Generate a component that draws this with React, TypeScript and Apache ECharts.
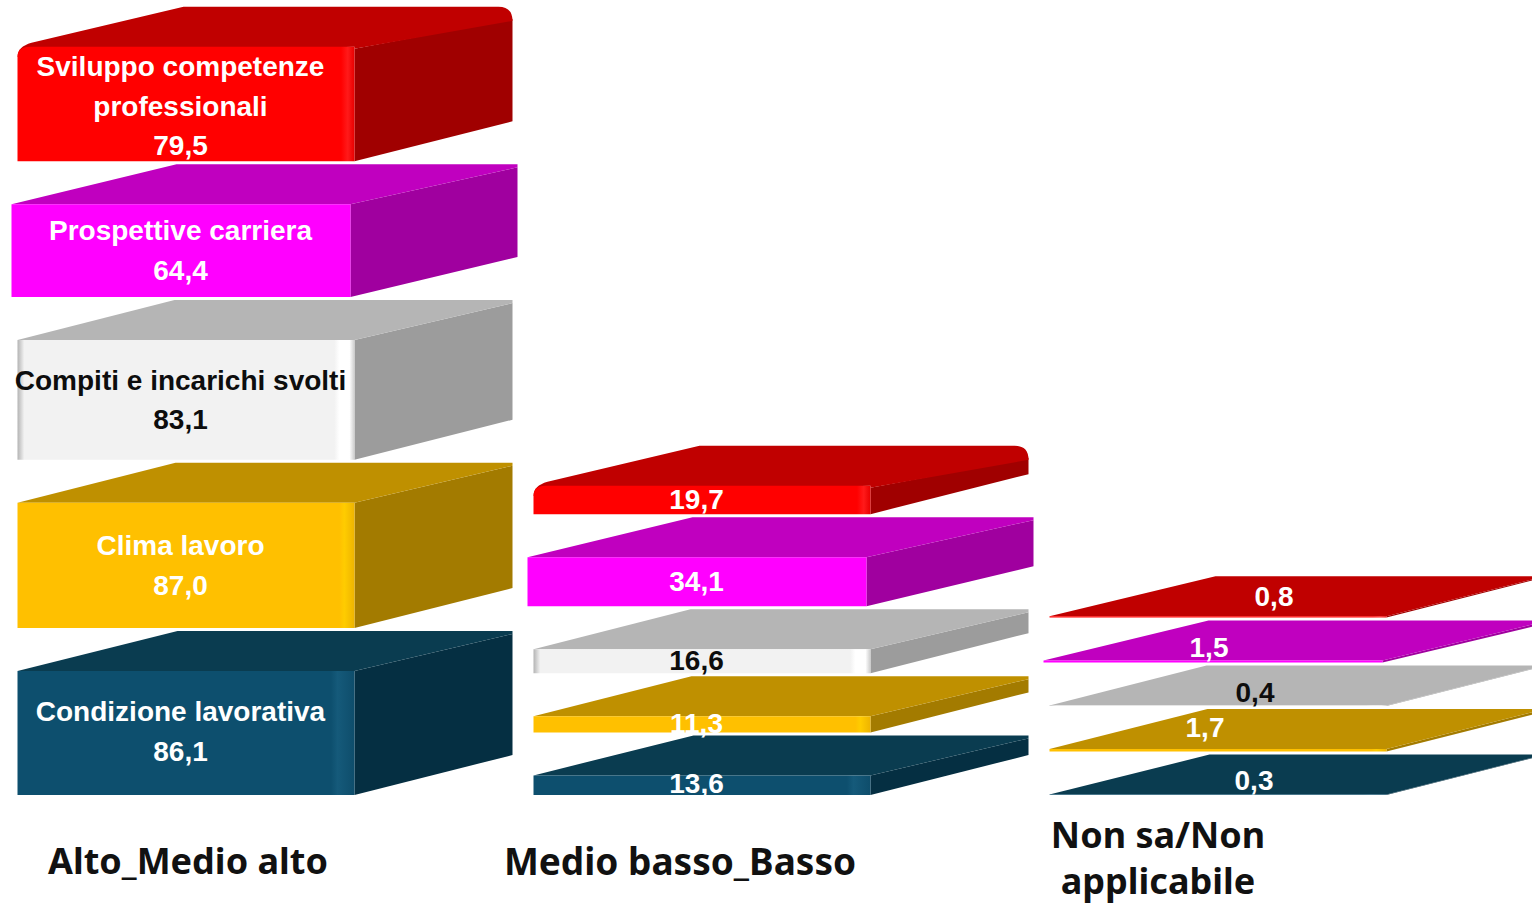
import React, { useEffect, useRef } from "react";
import * as echarts from "echarts";

// Response classes along the horizontal axis
const categories = ["Alto_Medio alto", "Medio basso_Basso", "Non sa/Non applicabile"];

// Satisfaction dimensions, bottom layer first
const seriesNames = [
  "Condizione lavorativa",
  "Clima lavoro",
  "Compiti e incarichi svolti",
  "Prospettive carriera",
  "Sviluppo competenze\nprofessionali",
];

const condizioneLavorativa = [86.1, 13.6, 0.3];
const climaLavoro = [87.0, 11.3, 1.7];
const compitiIncarichi = [83.1, 16.6, 0.4];
const prospettiveCarriera = [64.4, 34.1, 1.5];
const sviluppoCompetenze = [79.5, 19.7, 0.8];

const seriesValues = [
  condizioneLavorativa,
  climaLavoro,
  compitiIncarichi,
  prospettiveCarriera,
  sviluppoCompetenze,
];

// Block appearance, one entry per layer
const faceColors = [
  { top: "#0A3C50", side: "#052F42", text: "#FFFFFF" },
  { top: "#BF9000", side: "#A37B00", text: "#FFFFFF" },
  { top: "#B5B5B5", side: "#9C9C9C", text: "#0D0D0D" },
  { top: "#C000BF", side: "#A0009F", text: "#FFFFFF" },
  { top: "#C00000", side: "#A00000", text: "#FFFFFF" },
];
const frontStops: [number, string][][] = [
  [[0, "#0D4F6E"], [0.93, "#0D4F6E"], [0.95, "#155A7A"], [1, "#0E4D6B"]],
  [[0, "#FFC000"], [0.955, "#FFC000"], [0.97, "#FFCC00"], [1, "#EEB400"]],
  [[0, "#B4B4B4"], [0.02, "#F2F2F2"], [0.94, "#F2F2F2"], [0.955, "#FFFFFF"], [0.985, "#FFFFFF"], [1, "#CCCCCC"]],
  [[0, "#FF00FF"], [1, "#FF00FF"]],
  [[0, "#FF0000"], [0.96, "#FF0000"], [0.98, "#FF1A1A"], [1, "#E80000"]],
];
const leftShift = [0, 0, 0, -6, 0];
const rightShift = [0, 0, 0, -4, 0];
const backRight = [158, 158, 158, 167, 158];
const backLeft = [160, 158, 157, 165, 166];

const DEPTH = 40;
const LAYER_GAP = 43;
const PX_PER_UNIT = 1.44;
const BAR_RATIO = 337 / 516;

// Value label placement in the last column, relative to the column centre and block base
const lastColumnNudge: [number, number][] = [
  [36, -15],
  [-13, -24],
  [37, -14],
  [-9, -15],
  [56, -21],
];
// Vertical fine-tuning of the labels in the first two columns
const firstColumnLift = [-1.5, 0, 0, 0, 2];
const secondColumnLift = [-1.5, -1, -1, 0, 0];

const formatValue = (v: number) => v.toFixed(1).replace(".", ",");

function buildSeries() {
  return seriesNames.map((name, si) => {
    const data = seriesValues[si].map((v, c) => {
      let below = 0;
      for (let k = 0; k < si; k++) below += seriesValues[k][c];
      return [c, v, below];
    });
    return {
      type: "custom" as const,
      name,
      clip: false,
      encode: { x: 0, y: 1 },
      data,
      renderItem: (_: unknown, api: any) => {
        const cat = api.value(0);
        const value = api.value(1);
        const below = api.value(2);
        const centre = api.coord([cat, 0])[0];
        const base = api.coord([cat, 0])[1];
        const band = api.size([1, 0])[0];
        const half = (band * BAR_RATIO) / 2;
        const x0 = centre - half + leftShift[si];
        const x1 = centre + half + rightShift[si];
        const yB = base - api.size([0, below])[1] - si * LAYER_GAP;
        const h = api.size([0, value])[1];
        const yT = yB - h;
        const c = faceColors[si];
        const xr = x1 + backRight[si];
        const xl = x0 + backLeft[si];
        const yb = yT - DEPTH;
        const rounded = si === 4 && h > 5;
        const wedge = rounded ? 12 : h > 5 ? 3 : 0;

        const front = rounded
          ? `M${x0} ${yB}L${x0} ${yT + 10}Q${x0} ${yT} ${x0 + 12} ${yT}L${x1} ${yT}L${x1} ${yB}Z`
          : `M${x0} ${yB}L${x0} ${yT}L${x1} ${yT}L${x1} ${yB}Z`;
        const top = rounded
          ? `M${x0} ${yT + 10}Q${x0} ${yT} ${x0 + 14} ${yT - 4}L${xl} ${yb}L${xr - 14} ${yb}Q${xr} ${yb} ${xr} ${yb + 14}L${x1} ${yT + 2}L${x1} ${yT}Z`
          : `M${x0} ${yT}L${xl} ${yb}L${xr} ${yb}L${xr} ${yb + wedge}L${x1} ${yT}Z`;
        const side = `M${x1} ${yB}L${xr} ${yB - DEPTH}L${xr} ${yb + wedge}L${x1} ${yT + (rounded ? 2 : 0)}Z`;

        const children: any[] = [
          { type: "path", shape: { pathData: side }, style: { fill: c.side } },
          { type: "path", shape: { pathData: top }, style: { fill: c.top } },
          {
            type: "path",
            shape: { pathData: front },
            style: {
              fill: new echarts.graphic.LinearGradient(
                0, 0, 1, 0,
                frontStops[si].map(([offset, color]) => ({ offset, color }))
              ),
            },
          },
        ];

        // Column one names the dimension above its value
        const lines = cat === 0 ? [...name.split("\n"), formatValue(value)] : [formatValue(value)];
        let labelX = centre - 5.5;
        let labelY = (yT + yB) / 2 + (cat === 0 ? firstColumnLift[si] : secondColumnLift[si]);
        if (cat === 2) {
          labelX = centre + lastColumnNudge[si][0];
          labelY = yB + lastColumnNudge[si][1];
        }
        lines.forEach((line, i) => {
          children.push({
            type: "text",
            z2: 100,
            style: {
              text: line,
              x: labelX,
              y: labelY + (i - (lines.length - 1) / 2) * 39.7,
              fill: c.text,
              align: "center",
              verticalAlign: "middle",
              font: 'bold 28px "Liberation Sans", Arial, sans-serif',
            },
          });
        });
        return { type: "group", children };
      },
    };
  });
}

// Category captions under the columns; the last one takes two lines
const captionStyle = { font: 'bold 36px "Noto Sans", sans-serif', fill: "#111111", align: "center", verticalAlign: "middle" };

export default function App() {
  const ref = useRef<HTMLDivElement>(null);
  useEffect(() => {
    document.body.style.margin = "0";
    const chart = echarts.init(ref.current!, null, { renderer: "svg" });
    const [first, second, third] = categories;
    const thirdLines = [third.slice(0, 10), third.slice(11)];
    chart.setOption({
      animation: false,
      backgroundColor: "#FFFFFF",
      grid: { left: -72, width: 1548, top: 3, height: 550 * PX_PER_UNIT, outerBoundsMode: "none" },
      xAxis: { type: "category", data: categories, show: false },
      yAxis: { type: "value", min: 0, max: 550, show: false },
      tooltip: { show: false },
      series: buildSeries(),
      graphic: [
        { type: "text", x: 188, y: 860, style: { ...captionStyle, text: first } },
        { type: "text", x: 680, y: 860, style: { ...captionStyle, text: second, font: 'bold 37px "Noto Sans", sans-serif' } },
        { type: "text", x: 1158, y: 834, style: { ...captionStyle, text: thirdLines[0] } },
        { type: "text", x: 1158, y: 880, style: { ...captionStyle, text: thirdLines[1] } },
      ],
    });
    return () => chart.dispose();
  }, []);
  return <div ref={ref} style={{ position: "absolute", left: 0, top: 0, width: 1532, height: 905 }} />;
}
